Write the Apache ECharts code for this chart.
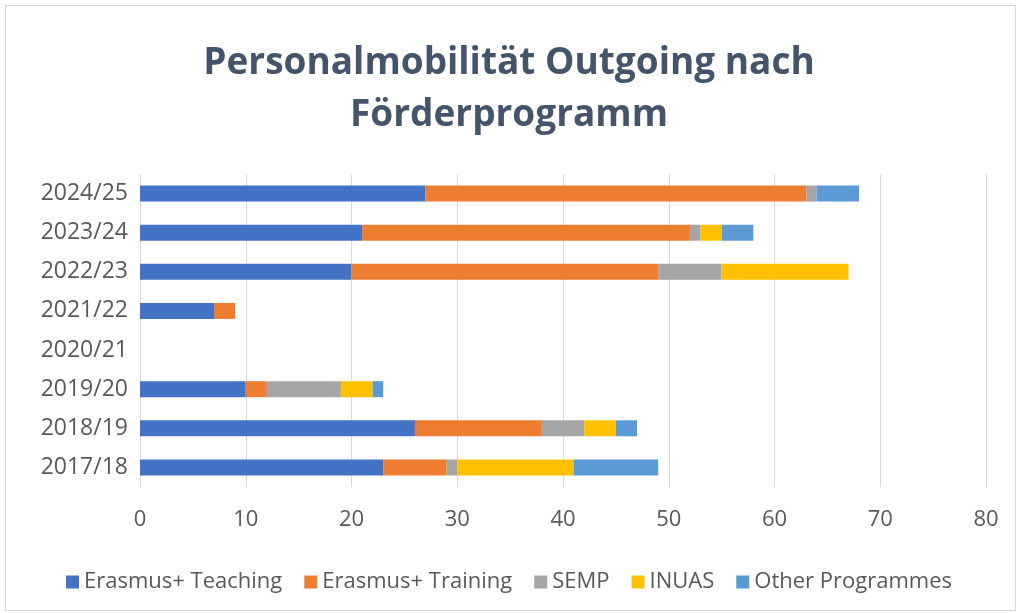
<!DOCTYPE html>
<html>
<head>
<meta charset="utf-8">
<script src="https://cdn.jsdelivr.net/npm/echarts@6/dist/echarts.min.js"></script>
<style>
html,body{margin:0;padding:0;background:#fff;}
#frame{position:absolute;left:5px;top:5px;width:1011px;height:606px;border:1px solid #d9d9d9;box-sizing:border-box;}
#chart{position:absolute;left:0;top:0;width:1018px;height:613px;}
</style>
</head>
<body>
<div id="frame"></div>
<div id="chart"></div>
<script>
var years = ['2017/18','2018/19','2019/20','2020/21','2021/22','2022/23','2023/24','2024/25'];
var teaching = [23, 26, 10, 0, 7, 20, 21, 27];
var training = [6, 12, 2, 0, 2, 29, 31, 36];
var semp = [1, 4, 7, 0, 0, 6, 1, 1];
var inuas = [11, 3, 3, 0, 0, 12, 2, 0];
var other = [8, 2, 1, 0, 0, 0, 3, 4];
var xTicks = [0, 10, 20, 30, 40, 50, 60, 70, 80];

var font = 'Open Sans';
var myChart = echarts.init(document.getElementById('chart'));

function bar(name, data, color){
    return {
        name: name,
        type: 'bar',
        stack: 'total',
        barWidth: 16,
        itemStyle: {color: color},
        emphasis: {disabled: true},
        data: data
    };
}

myChart.setOption({
    animation: false,
    title: {
        text: 'Personalmobilität Outgoing nach\nFörderprogramm',
        left: 'center',
        top: 32,
        textStyle: {
            fontFamily: font,
            fontSize: 37,
            fontWeight: 'bold',
            color: '#44546A',
            lineHeight: 52
        }
    },
    legend: {
        top: 566,
        left: 'center',
        itemWidth: 13,
        itemHeight: 13,
        itemGap: 22,
        icon: 'rect',
        textStyle: {fontFamily: font, fontSize: 22, color: '#595959'},
        data: ['Erasmus+ Teaching','Erasmus+ Training','SEMP','INUAS','Other Programmes']
    },
    grid: {
        left: 140,
        right: 32,
        top: 174,
        bottom: 126,
        containLabel: false
    },
    xAxis: {
        type: 'value',
        min: xTicks[0],
        max: xTicks[xTicks.length - 1],
        interval: 10,
        axisLine: {show: false},
        axisTick: {show: false},
        axisLabel: {fontFamily: font, fontSize: 22, color: '#595959', margin: 22},
        splitLine: {lineStyle: {color: '#d9d9d9', width: 1}}
    },
    yAxis: {
        type: 'category',
        data: years,
        axisLine: {lineStyle: {color: '#d9d9d9'}},
        axisTick: {show: false},
        axisLabel: {fontFamily: font, fontSize: 23, color: '#595959', margin: 12}
    },
    series: [
        bar('Erasmus+ Teaching', teaching, '#4472C4'),
        bar('Erasmus+ Training', training, '#ED7D31'),
        bar('SEMP', semp, '#A5A5A5'),
        bar('INUAS', inuas, '#FFC000'),
        bar('Other Programmes', other, '#5B9BD5')
    ]
});
</script>
</body>
</html>
